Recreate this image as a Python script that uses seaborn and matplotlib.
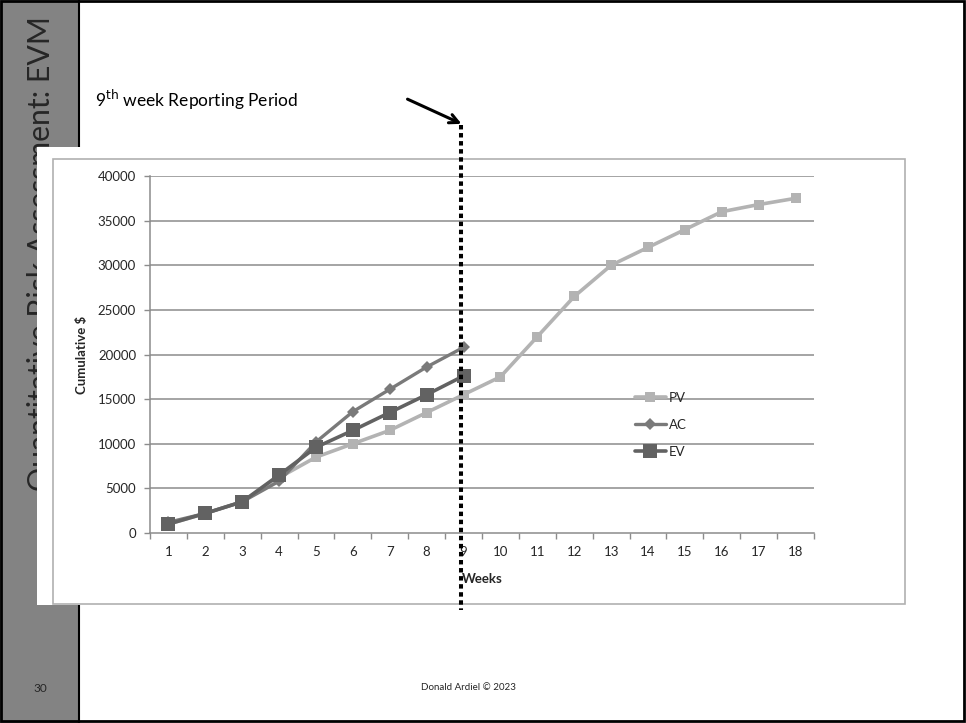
import matplotlib
matplotlib.use("Agg")
import matplotlib.pyplot as plt
from matplotlib.patches import Rectangle, FancyArrowPatch
from matplotlib.lines import Line2D
import seaborn as sns
import pandas as pd

# Earned value data, cumulative dollars per week
weeks = list(range(1, 19))
pv = [1000, 2200, 3500, 6200, 8500, 10000, 11500, 13500, 15500, 17500,
      22000, 26500, 30000, 32000, 34000, 36000, 36800, 37500]
ac_weeks = list(range(1, 10))
ac = [1200, 2200, 3500, 5800, 10200, 13600, 16100, 18600, 20800]
ev_weeks = list(range(1, 10))
ev = [1000, 2200, 3500, 6500, 9600, 11500, 13500, 15500, 17600]
y_ticks = [0, 5000, 10000, 15000, 20000, 25000, 30000, 35000, 40000]

W, H = 966, 723
sns.set_theme(style="white")
plt.rcParams["font.family"] = ["Lato", "DejaVu Sans"]

fig = plt.figure(figsize=(W / 100, H / 100), dpi=100)
fig.patch.set_facecolor("white")


def px(x, y):
    return (x / W, 1 - y / H)


def rect(x0, y0, x1, y1, **kw):
    r = Rectangle(px(x0, y1), (x1 - x0) / W, (y1 - y0) / H,
                  transform=fig.transFigure, **kw)
    fig.add_artist(r)
    return r


# slide side bar
rect(0, 0, 79, H, facecolor="#838383", edgecolor="none", zorder=0)
fig.add_artist(Line2D([79 / W, 79 / W], [0, 1], transform=fig.transFigure,
                      color="black", lw=1.5, zorder=1))
fig.text(*px(41, 16), "Quantitative Risk Assessment: EVM", rotation=90,
         ha="center", va="top", fontsize=21.8, color="#262626", zorder=1)
fig.text(*px(40, 688), "30", ha="center", va="center", fontsize=8.5,
         color="#262626", zorder=1)

# chart image on the slide
rect(37, 147, 912, 605, facecolor="white", edgecolor="none", zorder=2)
rect(53, 159, 905, 604, facecolor="white", edgecolor="#b0b0b0", lw=1.2, zorder=3)

ax = fig.add_axes([150 / W, 1 - 533 / H, (814 - 150) / W, (533 - 176) / H])
ax.set_zorder(4)
ax.patch.set_alpha(0)

grid_c = "#8c8c8c"
for yv in y_ticks[1:]:
    ax.axhline(yv, color=grid_c, lw=1.1, zorder=0)

sns.lineplot(x=weeks, y=pv, ax=ax, color="#b3b3b3", lw=2.6, marker="s",
             markersize=6.5, markeredgewidth=0, label="PV", zorder=3)
sns.lineplot(x=ac_weeks, y=ac, ax=ax, color="#7a7a7a", lw=2.4, marker="D",
             markersize=6.5, markeredgewidth=0, label="AC", zorder=4)
sns.lineplot(x=ev_weeks, y=ev, ax=ax, color="#626262", lw=2.6, marker="s",
             markersize=9.5, markeredgewidth=0, label="EV", zorder=5)

ax.set_xlim(0.5, 18.5)
ax.set_ylim(0, 40000)
ax.set_xticks(weeks)
ax.set_xticklabels([str(w) for w in weeks])
ax.set_xticks([w + 0.5 for w in [0] + weeks], minor=True)
ax.set_yticks(y_ticks)
ax.set_yticklabels([str(v) for v in y_ticks])
ax.tick_params(axis="x", which="major", length=0, pad=9, labelsize=9.5,
               labelcolor="#262626")
ax.tick_params(axis="x", which="minor", length=4, width=1, color=grid_c,
               direction="out")
ax.tick_params(axis="y", which="major", length=4, width=1, color=grid_c,
               direction="out", pad=6, labelsize=9.5, labelcolor="#262626")
ax.tick_params(left=True, bottom=True, which="both")
for s in ["top", "right"]:
    ax.spines[s].set_visible(False)
for s in ["left", "bottom"]:
    ax.spines[s].set_color(grid_c)
    ax.spines[s].set_linewidth(1.1)

ax.set_xlabel("Weeks", fontsize=9.5, fontweight="bold", color="#262626",
              labelpad=11)
ax.set_ylabel("Cumulative $", fontsize=9.5, fontweight="bold",
              color="#262626", labelpad=7)

leg = ax.legend(loc="upper left", bbox_to_anchor=px(628, 385),
                bbox_transform=fig.transFigure, frameon=False, fontsize=9.5,
                handlelength=2.4, handletextpad=0.2, labelspacing=1.15,
                borderpad=0)
for t in leg.get_texts():
    t.set_color("#262626")

# reporting period marker
fig.text(*px(95, 100), "9$^{\\mathrm{th}}$ week Reporting Period",
         ha="left", va="center", fontsize=12.5, color="black", zorder=6)
fig.add_artist(FancyArrowPatch(px(405, 98), px(464, 125),
                               transform=fig.transFigure, arrowstyle="->",
                               mutation_scale=16, lw=2.2, color="black",
                               zorder=6))
fig.add_artist(Line2D([461 / W, 461 / W], [1 - 125 / H, 1 - 610 / H],
                      transform=fig.transFigure, color="black", lw=2.9,
                      linestyle=(0, (1.1, 0.9)), dash_capstyle="butt",
                      zorder=6))

fig.text(*px(468, 688), "Donald Ardiel \u00a9 2023", ha="center",
         va="center", fontsize=7, color="#262626")

# slide border
rect(1, 1, W - 2, H - 2, facecolor="none", edgecolor="black", lw=2, zorder=7)

fig.savefig("out.png", dpi=100)
